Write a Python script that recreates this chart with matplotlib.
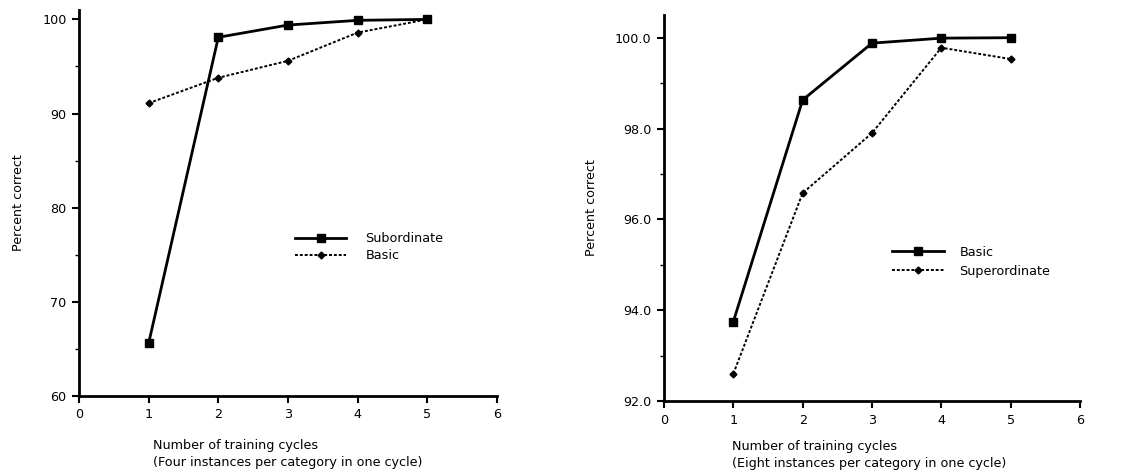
import numpy as np
import matplotlib
matplotlib.use("Agg")
import matplotlib.pyplot as plt
from matplotlib.ticker import MultipleLocator

# --- data ---
cycles = [1, 2, 3, 4, 5]

left_subordinate = [65.6, 98.1, 99.4, 99.9, 100.0]
left_basic = [91.1, 93.8, 95.6, 98.6, 100.0]
left_yticks = [60, 70, 80, 90, 100]
left_xlabel = "Number of training cycles\n(Four instances per category in one cycle)"

right_basic = [93.75, 98.63, 99.88, 99.99, 100.0]
right_superordinate = [92.6, 96.58, 97.9, 99.78, 99.53]
right_yticks = [92.0, 94.0, 96.0, 98.0, 100.0]
right_xlabel = "Number of training cycles\n(Eight instances per category in one cycle)"

xticks = [0, 1, 2, 3, 4, 5, 6]

plt.rcParams["font.family"] = ["DejaVu Sans"]
plt.rcParams["font.size"] = 9.2

fig = plt.figure(figsize=(11.23, 4.73), dpi=100)
axL = fig.add_axes([0.0703, 0.1628, 0.3723, 0.8161])
axR = fig.add_axes([0.5913, 0.1522, 0.3704, 0.8161])

solid = dict(color="black", lw=2.0, marker="s", ms=5.5, mfc="black", mec="black")
dotted = dict(color="black", lw=1.4, ls=(0, (1.5, 1.0)), marker="D", ms=3.5, mfc="black", mec="black")

def style(ax, ylim, yticks, fmt, minor):
    ax.set_xlim(0, 6)
    ax.set_ylim(*ylim)
    ax.set_xticks(xticks)
    ax.set_yticks(yticks)
    ax.set_yticklabels([fmt.format(v) for v in yticks])
    ax.yaxis.set_minor_locator(MultipleLocator(minor))
    for s in ("top", "right"):
        ax.spines[s].set_visible(False)
    for s in ("left", "bottom"):
        ax.spines[s].set_linewidth(2.0)
    ax.tick_params(which="major", direction="out", length=5, width=1.5, pad=4)
    ax.tick_params(which="minor", direction="out", length=3, width=1.0)
    ax.set_ylabel("Percent correct", labelpad=12)

# left panel
axL.plot(cycles, left_subordinate, label="Subordinate", **solid)
axL.plot(cycles, left_basic, label="Basic", **dotted)
style(axL, (60, 101), left_yticks, "{:d}", 5)
axL.text(0.177, -0.112, left_xlabel, transform=axL.transAxes, ha="left", va="top", linespacing=1.4)
axL.legend(loc="center left", bbox_to_anchor=(0.517, 0.385), frameon=False,
           handlelength=4.0, handletextpad=1.5, labelspacing=0.3,
           borderpad=0, borderaxespad=0)

# right panel
axR.plot(cycles, right_basic, label="Basic", **solid)
axR.plot(cycles, right_superordinate, label="Superordinate", **dotted)
style(axR, (92.0, 100.5), right_yticks, "{:.1f}", 1.0)
axR.text(0.163, -0.1, right_xlabel, transform=axR.transAxes, ha="left", va="top", linespacing=1.4)
axR.legend(loc="center left", bbox_to_anchor=(0.547, 0.361), frameon=False,
           handlelength=4.1, handletextpad=1.2, labelspacing=0.45,
           borderpad=0, borderaxespad=0)

fig.savefig("out.png", dpi=100)
